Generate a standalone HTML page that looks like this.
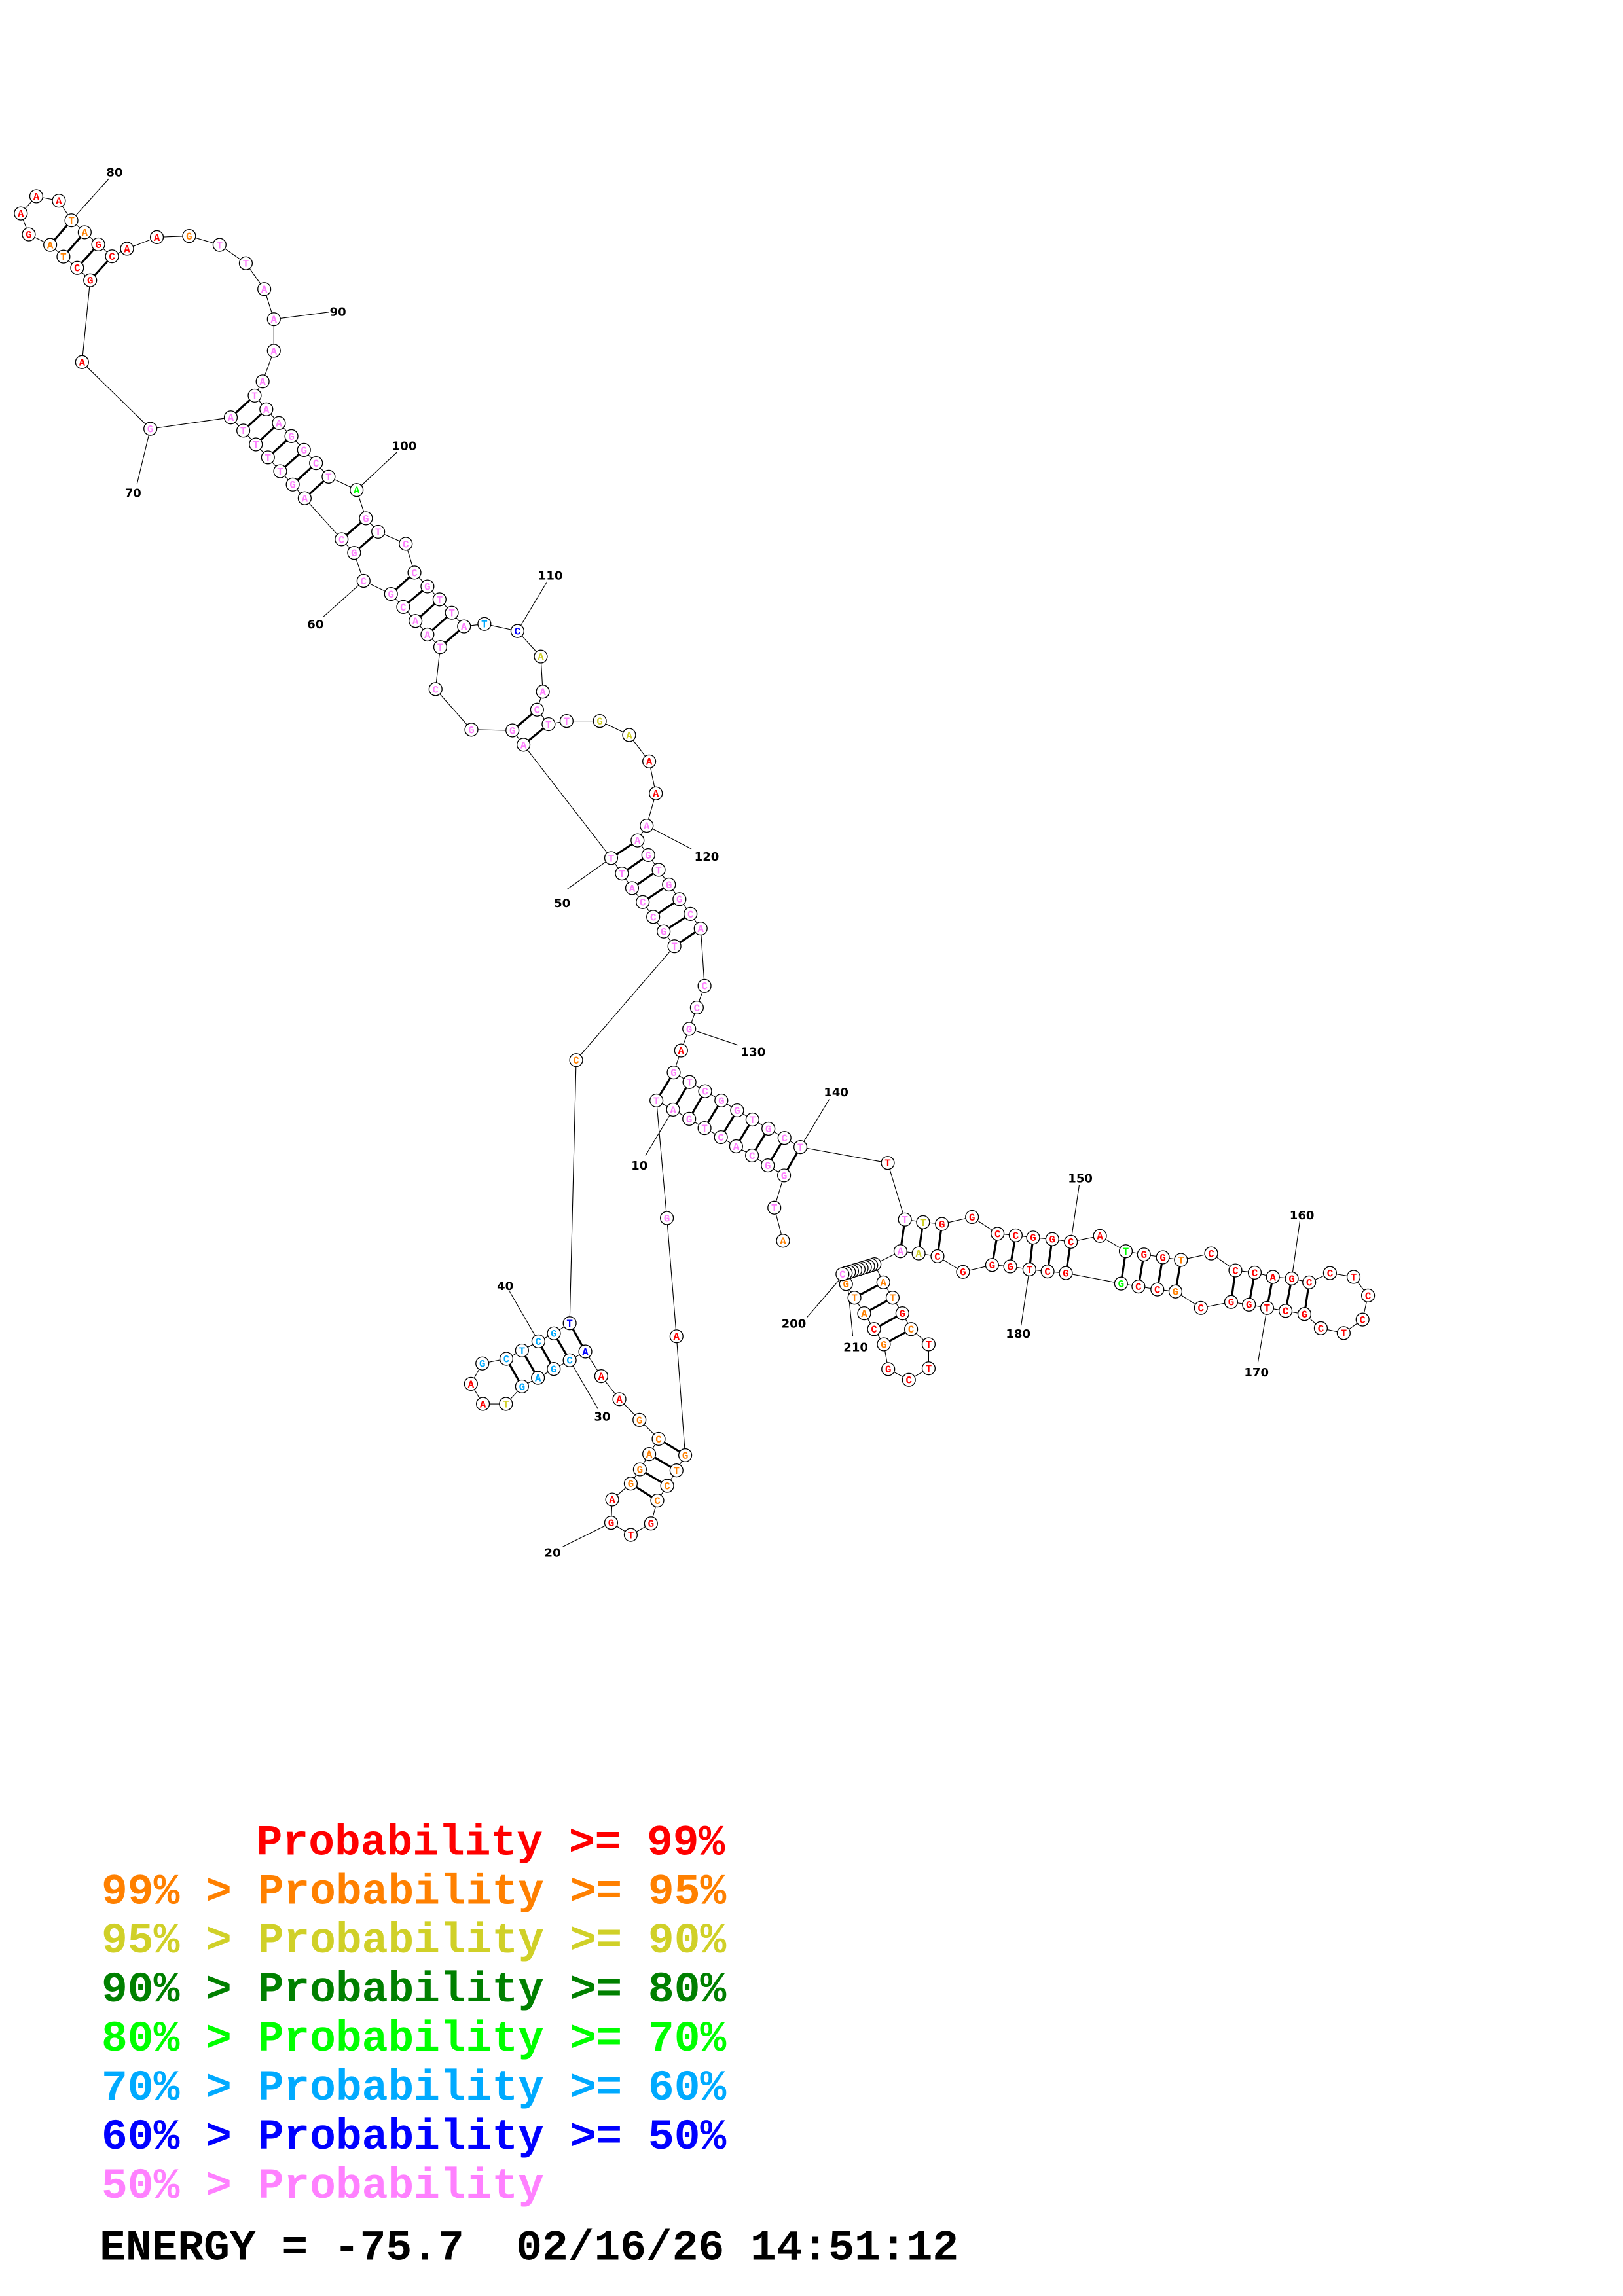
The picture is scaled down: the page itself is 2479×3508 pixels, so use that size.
<!DOCTYPE html>
<html><head><meta charset="utf-8"><style>
html,body{margin:0;padding:0;background:#fff;}
svg{display:block;}
circle{fill:#fff;stroke:#000;stroke-width:.6;}
.n{font-family:"Liberation Mono",monospace;font-weight:bold;font-size:7px;text-anchor:middle;}
.lab{font-family:"DejaVu Sans","Liberation Sans",sans-serif;font-weight:bold;font-size:8px;text-anchor:middle;fill:#000;}
.bb{fill:none;stroke:#000;stroke-width:.5;}
.pr{stroke:#000;stroke-width:1.4;}
.ln{stroke:#000;stroke-width:.5;}
.p{fill:#ff80ff}.r{fill:#ff0000}.o{fill:#ff8000}.y{fill:#d0d028}.dg{fill:#008000}.g{fill:#00ff00}.lb{fill:#00aaff}.b{fill:#0000ff}.k{fill:#000}
.leg{font-family:"Liberation Mono",monospace;font-weight:bold;font-size:29.4px;}
</style></head><body>
<svg width="2479" height="3508" viewBox="0 0 1100 1556.6" xmlns="http://www.w3.org/2000/svg">
<!-- backbone -->
<polyline class="bb" points="530.7,841.2 524.8,818.8 531.4,796.9 520.4,790.1 509.7,783.4 498.9,777.2 488.6,771 477.5,764.8 467.1,758.5 456.2,752.3 444.9,746.1 452,825.8 458.5,906 464.4,986.6 458.5,996.9 452.2,1007.3 445.5,1017.3 441.2,1032.9 427.5,1040.6 414.2,1032.4 414.9,1016.6 427.5,1005.8 433.7,996.2 440,985.8 446.4,975.5 433.4,962.6 419.8,948.6 407.5,933 396.7,916.3 386.1,922.2 375.3,928.1 364.6,934.1 353.8,940 342.9,951.8 327.3,951.8 319.2,938.2 326.9,924.4 343.2,921.2 353.8,915.6 364.9,909.4 375.4,904 386.1,897.1 390.5,718.7 457.1,641.5 449.8,631.5 442.7,621.6 435.6,611.6 428.4,602.1 421.5,592.2 414.2,581.7 354.8,504.9 347.3,495.2 319.5,494.7 295.2,467.2 298.4,438.7 289.7,430.2 281.6,421 273.3,411.5 265,402.7 246.4,393.8 240,374.8 231.5,365.6 206.5,337.8 198.4,328.5 189.9,319.5 181.6,310.1 173.4,301.3 164.9,291.9 156.4,283 101.9,290.7 55.6,245.5 61.1,190 52.3,181.6 43,174 34,166 19.5,158.9 14.1,144.7 24.6,133.1 39.9,136.1 48.4,149.4 57.4,157.5 66.6,165.7 75.9,173.8 86.1,168.6 106.3,160.8 128.2,160 148.8,166 166.6,178.5 179.1,196 185.6,216.4 185.6,237.8 178,258.6 172.6,268.2 180.5,277.5 189,286.8 197.5,295.7 206,305 214.2,314 222.7,323.2 241.7,332.2 248,351.4 256.3,360.5 275,368.7 280.9,388.2 289.7,397.6 297.9,406.4 306.2,415.4 314.5,424.7 328.3,423 350.7,427.8 366.5,445.1 367.9,468.9 364,481.1 371.8,491 384,488.8 406.5,488.8 426.4,498.3 440,516.2 444.5,537.9 438.3,559.8 432.1,569.8 439.4,579.7 446.4,589.7 453.4,599.7 460.5,609.6 468,619.6 474.9,629.5 477.5,668.4 472.3,683.1 467.1,697.5 461.6,712.2 456.6,727.1 467.3,733.6 477.9,739.8 488.9,746.1 499.6,752.8 510,759 520.8,765.2 531.7,771.5 542.5,777.7 601.7,788.4 613.3,826.8 625.6,828.6 638.4,829.8 658.8,825.1 676.1,836.4 688.4,837.5 700.2,839 713.2,840.1 725.8,841.9 745.5,837.9 763,848.3 775.3,850.5 788.1,852.4 800.4,854.2 820.9,849.8 837.3,861.3 850.4,862.8 862.7,865.7 875.5,866.8 887.3,869.4 901.4,863.1 917.4,865.7 927.2,878.3 923.5,894.6 910.7,903.8 895.2,900.5 884.1,890.9 871.3,888.7 858.8,886.7 846.5,884.5 834.4,882.7 813.9,886.7 796.7,875.6 784.4,874.2 771.6,872.2 759.8,870.2 722.4,863.1 710,862 697.7,860.6 684.7,858.6 672.4,857.6 652.7,862.3 635.4,851.7 622.6,849.8 610.3,848.3 592.7,857.1 571,863.8 573.4,870.5 579.1,879.8 585.7,890.4 592.4,901.1 599,911.4 602,928.2 616,935.5 629.4,927.7 629.4,911.4 617.5,901.1 611.6,890.4 605,879.8 598.7,869.4 592.7,857.1"/>
<!-- pairs -->
<g class="pr">
<line x1="531.4" y1="796.9" x2="542.5" y2="777.7"/><line x1="520.4" y1="790.1" x2="531.7" y2="771.5"/><line x1="509.7" y1="783.4" x2="520.8" y2="765.2"/><line x1="498.9" y1="777.2" x2="510" y2="759"/><line x1="488.6" y1="771" x2="499.6" y2="752.8"/><line x1="477.5" y1="764.8" x2="488.9" y2="746.1"/><line x1="467.1" y1="758.5" x2="477.9" y2="739.8"/><line x1="456.2" y1="752.3" x2="467.3" y2="733.6"/><line x1="444.9" y1="746.1" x2="456.6" y2="727.1"/>
<line x1="464.4" y1="986.6" x2="446.4" y2="975.5"/><line x1="458.5" y1="996.9" x2="440" y2="985.8"/><line x1="452.2" y1="1007.3" x2="433.7" y2="996.2"/><line x1="445.5" y1="1017.3" x2="427.5" y2="1005.8"/>
<line x1="386.1" y1="897.1" x2="396.7" y2="916.3"/><line x1="375.4" y1="904" x2="386.1" y2="922.2"/><line x1="364.9" y1="909.4" x2="375.3" y2="928.1"/><line x1="353.8" y1="915.6" x2="364.6" y2="934.1"/><line x1="343.2" y1="921.2" x2="353.8" y2="940"/>
<line x1="414.2" y1="581.7" x2="432.1" y2="569.8"/><line x1="421.5" y1="592.2" x2="439.4" y2="579.7"/><line x1="428.4" y1="602.1" x2="446.4" y2="589.7"/><line x1="435.6" y1="611.6" x2="453.4" y2="599.7"/><line x1="442.7" y1="621.6" x2="460.5" y2="609.6"/><line x1="449.8" y1="631.5" x2="468" y2="619.6"/><line x1="457.1" y1="641.5" x2="474.9" y2="629.5"/>
<line x1="354.8" y1="504.9" x2="371.8" y2="491"/><line x1="347.3" y1="495.2" x2="364" y2="481.1"/>
<line x1="298.4" y1="438.7" x2="314.5" y2="424.7"/><line x1="289.7" y1="430.2" x2="306.2" y2="415.4"/><line x1="281.6" y1="421" x2="297.9" y2="406.4"/><line x1="273.3" y1="411.5" x2="289.7" y2="397.6"/><line x1="265" y1="402.7" x2="280.9" y2="388.2"/>
<line x1="240" y1="374.8" x2="256.3" y2="360.5"/><line x1="231.5" y1="365.6" x2="248" y2="351.4"/>
<line x1="206.5" y1="337.8" x2="222.7" y2="323.2"/><line x1="198.4" y1="328.5" x2="214.2" y2="314"/><line x1="189.9" y1="319.5" x2="206" y2="305"/><line x1="181.6" y1="310.1" x2="197.5" y2="295.7"/><line x1="173.4" y1="301.3" x2="189" y2="286.8"/><line x1="164.9" y1="291.9" x2="180.5" y2="277.5"/><line x1="156.4" y1="283" x2="172.6" y2="268.2"/>
<line x1="61.1" y1="190" x2="75.9" y2="173.8"/><line x1="52.3" y1="181.6" x2="66.6" y2="165.7"/><line x1="43" y1="174" x2="57.4" y2="157.5"/><line x1="34" y1="166" x2="48.4" y2="149.4"/>
<line x1="613.3" y1="826.8" x2="610.3" y2="848.3"/><line x1="625.6" y1="828.6" x2="622.6" y2="849.8"/><line x1="638.4" y1="829.8" x2="635.4" y2="851.7"/>
<line x1="676.1" y1="836.4" x2="672.4" y2="857.6"/><line x1="688.4" y1="837.5" x2="684.7" y2="858.6"/><line x1="700.2" y1="839" x2="697.7" y2="860.6"/><line x1="713.2" y1="840.1" x2="710" y2="862"/><line x1="725.8" y1="841.9" x2="722.4" y2="863.1"/>
<line x1="763" y1="848.3" x2="759.8" y2="870.2"/><line x1="775.3" y1="850.5" x2="771.6" y2="872.2"/><line x1="788.1" y1="852.4" x2="784.4" y2="874.2"/><line x1="800.4" y1="854.2" x2="796.7" y2="875.6"/>
<line x1="837.3" y1="861.3" x2="834.4" y2="882.7"/><line x1="850.4" y1="862.8" x2="846.5" y2="884.5"/><line x1="862.7" y1="865.7" x2="858.8" y2="886.7"/><line x1="875.5" y1="866.8" x2="871.3" y2="888.7"/><line x1="887.3" y1="869.4" x2="884.1" y2="890.9"/>
<line x1="579.1" y1="879.8" x2="598.7" y2="869.4"/><line x1="585.7" y1="890.4" x2="605" y2="879.8"/><line x1="592.4" y1="901.1" x2="611.6" y2="890.4"/><line x1="599" y1="911.4" x2="617.5" y2="901.1"/>
</g>
<!-- number labels -->
<g class="ln">
<line x1="437.5" y1="783.4" x2="456.2" y2="752.3"/><line x1="381.3" y1="1048.7" x2="414.2" y2="1032.4"/><line x1="405.3" y1="955.2" x2="386.1" y2="922.2"/><line x1="345.4" y1="875.6" x2="364.9" y2="909.4"/><line x1="384.3" y1="602.9" x2="414.2" y2="581.7"/><line x1="219.3" y1="418" x2="246.4" y2="393.8"/><line x1="92.8" y1="328.3" x2="101.9" y2="290.7"/><line x1="73.9" y1="121" x2="48.4" y2="149.4"/><line x1="223" y1="211.6" x2="185.6" y2="216.4"/><line x1="268.9" y1="306.7" x2="241.7" y2="332.2"/><line x1="370.7" y1="394.5" x2="350.7" y2="427.8"/><line x1="468.6" y1="575.5" x2="438.3" y2="559.8"/><line x1="500" y1="708.5" x2="467.1" y2="697.5"/><line x1="562" y1="745.3" x2="542.5" y2="777.7"/><line x1="731.5" y1="803.2" x2="725.8" y2="841.9"/><line x1="881" y1="828" x2="875.5" y2="866.8"/><line x1="852.6" y1="923.7" x2="858.8" y2="886.7"/><line x1="692.1" y1="898.6" x2="697.7" y2="860.6"/><line x1="547" y1="893" x2="572" y2="864"/><line x1="578" y1="906" x2="574" y2="866"/>
</g>
<g class="lab">
<text x="433.4" y="792.9">10</text><text x="374.5" y="1055.4">20</text><text x="408.2" y="963.2">30</text><text x="342.4" y="874.5">40</text><text x="381" y="615">50</text><text x="213.8" y="426">60</text><text x="90.2" y="337">70</text><text x="77.6" y="119.6">80</text><text x="229" y="214">90</text><text x="274" y="305">100</text><text x="373" y="393">110</text><text x="479" y="583.5">120</text><text x="510.5" y="716">130</text><text x="566.7" y="743.3">140</text><text x="732.2" y="801.7">150</text><text x="882.4" y="826.6">160</text><text x="851.6" y="933.1">170</text><text x="690.1" y="907">180</text><text x="538" y="900">200</text><text x="580" y="916">210</text>
</g>
<!-- nodes -->
<g id="nodes">
<circle cx="573.4" cy="870.5" r="4.4"/><text class="n o" x="573.4" y="872.9">G</text>
<circle cx="530.7" cy="841.2" r="4.4"/><text class="n o" x="530.7" y="843.6">A</text>
<circle cx="524.8" cy="818.8" r="4.4"/><text class="n p" x="524.8" y="821.2">T</text>
<circle cx="531.4" cy="796.9" r="4.4"/><text class="n p" x="531.4" y="799.3">G</text>
<circle cx="520.4" cy="790.1" r="4.4"/><text class="n p" x="520.4" y="792.5">G</text>
<circle cx="509.7" cy="783.4" r="4.4"/><text class="n p" x="509.7" y="785.8">C</text>
<circle cx="498.9" cy="777.2" r="4.4"/><text class="n p" x="498.9" y="779.6">A</text>
<circle cx="488.6" cy="771" r="4.4"/><text class="n p" x="488.6" y="773.4">C</text>
<circle cx="477.5" cy="764.8" r="4.4"/><text class="n p" x="477.5" y="767.2">T</text>
<circle cx="467.1" cy="758.5" r="4.4"/><text class="n p" x="467.1" y="760.9">G</text>
<circle cx="456.2" cy="752.3" r="4.4"/><text class="n p" x="456.2" y="754.7">A</text>
<circle cx="444.9" cy="746.1" r="4.4"/><text class="n p" x="444.9" y="748.5">T</text>
<circle cx="452" cy="825.8" r="4.4"/><text class="n p" x="452" y="828.2">G</text>
<circle cx="458.5" cy="906" r="4.4"/><text class="n r" x="458.5" y="908.4">A</text>
<circle cx="464.4" cy="986.6" r="4.4"/><text class="n o" x="464.4" y="989">G</text>
<circle cx="458.5" cy="996.9" r="4.4"/><text class="n o" x="458.5" y="999.3">T</text>
<circle cx="452.2" cy="1007.3" r="4.4"/><text class="n o" x="452.2" y="1009.7">C</text>
<circle cx="445.5" cy="1017.3" r="4.4"/><text class="n o" x="445.5" y="1019.7">C</text>
<circle cx="441.2" cy="1032.9" r="4.4"/><text class="n r" x="441.2" y="1035.3">G</text>
<circle cx="427.5" cy="1040.6" r="4.4"/><text class="n r" x="427.5" y="1043">T</text>
<circle cx="414.2" cy="1032.4" r="4.4"/><text class="n r" x="414.2" y="1034.8">G</text>
<circle cx="414.9" cy="1016.6" r="4.4"/><text class="n r" x="414.9" y="1019">A</text>
<circle cx="427.5" cy="1005.8" r="4.4"/><text class="n o" x="427.5" y="1008.2">G</text>
<circle cx="433.7" cy="996.2" r="4.4"/><text class="n o" x="433.7" y="998.6">G</text>
<circle cx="440" cy="985.8" r="4.4"/><text class="n o" x="440" y="988.2">A</text>
<circle cx="446.4" cy="975.5" r="4.4"/><text class="n o" x="446.4" y="977.9">C</text>
<circle cx="433.4" cy="962.6" r="4.4"/><text class="n o" x="433.4" y="965">G</text>
<circle cx="419.8" cy="948.6" r="4.4"/><text class="n r" x="419.8" y="951">A</text>
<circle cx="407.5" cy="933" r="4.4"/><text class="n r" x="407.5" y="935.4">A</text>
<circle cx="396.7" cy="916.3" r="4.4"/><text class="n b" x="396.7" y="918.7">A</text>
<circle cx="386.1" cy="922.2" r="4.4"/><text class="n lb" x="386.1" y="924.6">C</text>
<circle cx="375.3" cy="928.1" r="4.4"/><text class="n lb" x="375.3" y="930.5">G</text>
<circle cx="364.6" cy="934.1" r="4.4"/><text class="n lb" x="364.6" y="936.5">A</text>
<circle cx="353.8" cy="940" r="4.4"/><text class="n lb" x="353.8" y="942.4">G</text>
<circle cx="342.9" cy="951.8" r="4.4"/><text class="n y" x="342.9" y="954.2">T</text>
<circle cx="327.3" cy="951.8" r="4.4"/><text class="n r" x="327.3" y="954.2">A</text>
<circle cx="319.2" cy="938.2" r="4.4"/><text class="n r" x="319.2" y="940.6">A</text>
<circle cx="326.9" cy="924.4" r="4.4"/><text class="n lb" x="326.9" y="926.8">G</text>
<circle cx="343.2" cy="921.2" r="4.4"/><text class="n lb" x="343.2" y="923.6">C</text>
<circle cx="353.8" cy="915.6" r="4.4"/><text class="n lb" x="353.8" y="918">T</text>
<circle cx="364.9" cy="909.4" r="4.4"/><text class="n lb" x="364.9" y="911.8">C</text>
<circle cx="375.4" cy="904" r="4.4"/><text class="n lb" x="375.4" y="906.4">G</text>
<circle cx="386.1" cy="897.1" r="4.4"/><text class="n b" x="386.1" y="899.5">T</text>
<circle cx="390.5" cy="718.7" r="4.4"/><text class="n o" x="390.5" y="721.1">C</text>
<circle cx="457.1" cy="641.5" r="4.4"/><text class="n p" x="457.1" y="643.9">T</text>
<circle cx="449.8" cy="631.5" r="4.4"/><text class="n p" x="449.8" y="633.9">G</text>
<circle cx="442.7" cy="621.6" r="4.4"/><text class="n p" x="442.7" y="624">C</text>
<circle cx="435.6" cy="611.6" r="4.4"/><text class="n p" x="435.6" y="614">C</text>
<circle cx="428.4" cy="602.1" r="4.4"/><text class="n p" x="428.4" y="604.5">A</text>
<circle cx="421.5" cy="592.2" r="4.4"/><text class="n p" x="421.5" y="594.6">T</text>
<circle cx="414.2" cy="581.7" r="4.4"/><text class="n p" x="414.2" y="584.1">T</text>
<circle cx="354.8" cy="504.9" r="4.4"/><text class="n p" x="354.8" y="507.3">A</text>
<circle cx="347.3" cy="495.2" r="4.4"/><text class="n p" x="347.3" y="497.6">G</text>
<circle cx="319.5" cy="494.7" r="4.4"/><text class="n p" x="319.5" y="497.1">G</text>
<circle cx="295.2" cy="467.2" r="4.4"/><text class="n p" x="295.2" y="469.6">C</text>
<circle cx="298.4" cy="438.7" r="4.4"/><text class="n p" x="298.4" y="441.1">T</text>
<circle cx="289.7" cy="430.2" r="4.4"/><text class="n p" x="289.7" y="432.6">A</text>
<circle cx="281.6" cy="421" r="4.4"/><text class="n p" x="281.6" y="423.4">A</text>
<circle cx="273.3" cy="411.5" r="4.4"/><text class="n p" x="273.3" y="413.9">C</text>
<circle cx="265" cy="402.7" r="4.4"/><text class="n p" x="265" y="405.1">G</text>
<circle cx="246.4" cy="393.8" r="4.4"/><text class="n p" x="246.4" y="396.2">C</text>
<circle cx="240" cy="374.8" r="4.4"/><text class="n p" x="240" y="377.2">G</text>
<circle cx="231.5" cy="365.6" r="4.4"/><text class="n p" x="231.5" y="368">C</text>
<circle cx="206.5" cy="337.8" r="4.4"/><text class="n p" x="206.5" y="340.2">A</text>
<circle cx="198.4" cy="328.5" r="4.4"/><text class="n p" x="198.4" y="330.9">G</text>
<circle cx="189.9" cy="319.5" r="4.4"/><text class="n p" x="189.9" y="321.9">T</text>
<circle cx="181.6" cy="310.1" r="4.4"/><text class="n p" x="181.6" y="312.5">T</text>
<circle cx="173.4" cy="301.3" r="4.4"/><text class="n p" x="173.4" y="303.7">T</text>
<circle cx="164.9" cy="291.9" r="4.4"/><text class="n p" x="164.9" y="294.3">T</text>
<circle cx="156.4" cy="283" r="4.4"/><text class="n p" x="156.4" y="285.4">A</text>
<circle cx="101.9" cy="290.7" r="4.4"/><text class="n p" x="101.9" y="293.1">G</text>
<circle cx="55.6" cy="245.5" r="4.4"/><text class="n r" x="55.6" y="247.9">A</text>
<circle cx="61.1" cy="190" r="4.4"/><text class="n r" x="61.1" y="192.4">G</text>
<circle cx="52.3" cy="181.6" r="4.4"/><text class="n r" x="52.3" y="184">C</text>
<circle cx="43" cy="174" r="4.4"/><text class="n o" x="43" y="176.4">T</text>
<circle cx="34" cy="166" r="4.4"/><text class="n o" x="34" y="168.4">A</text>
<circle cx="19.5" cy="158.9" r="4.4"/><text class="n r" x="19.5" y="161.3">G</text>
<circle cx="14.1" cy="144.7" r="4.4"/><text class="n r" x="14.1" y="147.1">A</text>
<circle cx="24.6" cy="133.1" r="4.4"/><text class="n r" x="24.6" y="135.5">A</text>
<circle cx="39.9" cy="136.1" r="4.4"/><text class="n r" x="39.9" y="138.5">A</text>
<circle cx="48.4" cy="149.4" r="4.4"/><text class="n o" x="48.4" y="151.8">T</text>
<circle cx="57.4" cy="157.5" r="4.4"/><text class="n o" x="57.4" y="159.9">A</text>
<circle cx="66.6" cy="165.7" r="4.4"/><text class="n r" x="66.6" y="168.1">G</text>
<circle cx="75.9" cy="173.8" r="4.4"/><text class="n r" x="75.9" y="176.2">C</text>
<circle cx="86.1" cy="168.6" r="4.4"/><text class="n r" x="86.1" y="171">A</text>
<circle cx="106.3" cy="160.8" r="4.4"/><text class="n r" x="106.3" y="163.2">A</text>
<circle cx="128.2" cy="160" r="4.4"/><text class="n o" x="128.2" y="162.4">G</text>
<circle cx="148.8" cy="166" r="4.4"/><text class="n p" x="148.8" y="168.4">T</text>
<circle cx="166.6" cy="178.5" r="4.4"/><text class="n p" x="166.6" y="180.9">T</text>
<circle cx="179.1" cy="196" r="4.4"/><text class="n p" x="179.1" y="198.4">A</text>
<circle cx="185.6" cy="216.4" r="4.4"/><text class="n p" x="185.6" y="218.8">A</text>
<circle cx="185.6" cy="237.8" r="4.4"/><text class="n p" x="185.6" y="240.2">A</text>
<circle cx="178" cy="258.6" r="4.4"/><text class="n p" x="178" y="261">A</text>
<circle cx="172.6" cy="268.2" r="4.4"/><text class="n p" x="172.6" y="270.6">T</text>
<circle cx="180.5" cy="277.5" r="4.4"/><text class="n p" x="180.5" y="279.9">A</text>
<circle cx="189" cy="286.8" r="4.4"/><text class="n p" x="189" y="289.2">A</text>
<circle cx="197.5" cy="295.7" r="4.4"/><text class="n p" x="197.5" y="298.1">G</text>
<circle cx="206" cy="305" r="4.4"/><text class="n p" x="206" y="307.4">G</text>
<circle cx="214.2" cy="314" r="4.4"/><text class="n p" x="214.2" y="316.4">C</text>
<circle cx="222.7" cy="323.2" r="4.4"/><text class="n p" x="222.7" y="325.6">T</text>
<circle cx="241.7" cy="332.2" r="4.4"/><text class="n g" x="241.7" y="334.6">A</text>
<circle cx="248" cy="351.4" r="4.4"/><text class="n p" x="248" y="353.8">G</text>
<circle cx="256.3" cy="360.5" r="4.4"/><text class="n p" x="256.3" y="362.9">T</text>
<circle cx="275" cy="368.7" r="4.4"/><text class="n p" x="275" y="371.1">C</text>
<circle cx="280.9" cy="388.2" r="4.4"/><text class="n p" x="280.9" y="390.6">C</text>
<circle cx="289.7" cy="397.6" r="4.4"/><text class="n p" x="289.7" y="400">G</text>
<circle cx="297.9" cy="406.4" r="4.4"/><text class="n p" x="297.9" y="408.8">T</text>
<circle cx="306.2" cy="415.4" r="4.4"/><text class="n p" x="306.2" y="417.8">T</text>
<circle cx="314.5" cy="424.7" r="4.4"/><text class="n p" x="314.5" y="427.1">A</text>
<circle cx="328.3" cy="423" r="4.4"/><text class="n lb" x="328.3" y="425.4">T</text>
<circle cx="350.7" cy="427.8" r="4.4"/><text class="n b" x="350.7" y="430.2">C</text>
<circle cx="366.5" cy="445.1" r="4.4"/><text class="n y" x="366.5" y="447.5">A</text>
<circle cx="367.9" cy="468.9" r="4.4"/><text class="n p" x="367.9" y="471.3">A</text>
<circle cx="364" cy="481.1" r="4.4"/><text class="n p" x="364" y="483.5">C</text>
<circle cx="371.8" cy="491" r="4.4"/><text class="n p" x="371.8" y="493.4">T</text>
<circle cx="384" cy="488.8" r="4.4"/><text class="n p" x="384" y="491.2">T</text>
<circle cx="406.5" cy="488.8" r="4.4"/><text class="n y" x="406.5" y="491.2">G</text>
<circle cx="426.4" cy="498.3" r="4.4"/><text class="n y" x="426.4" y="500.7">A</text>
<circle cx="440" cy="516.2" r="4.4"/><text class="n r" x="440" y="518.6">A</text>
<circle cx="444.5" cy="537.9" r="4.4"/><text class="n r" x="444.5" y="540.3">A</text>
<circle cx="438.3" cy="559.8" r="4.4"/><text class="n p" x="438.3" y="562.2">A</text>
<circle cx="432.1" cy="569.8" r="4.4"/><text class="n p" x="432.1" y="572.2">A</text>
<circle cx="439.4" cy="579.7" r="4.4"/><text class="n p" x="439.4" y="582.1">G</text>
<circle cx="446.4" cy="589.7" r="4.4"/><text class="n p" x="446.4" y="592.1">T</text>
<circle cx="453.4" cy="599.7" r="4.4"/><text class="n p" x="453.4" y="602.1">G</text>
<circle cx="460.5" cy="609.6" r="4.4"/><text class="n p" x="460.5" y="612">G</text>
<circle cx="468" cy="619.6" r="4.4"/><text class="n p" x="468" y="622">C</text>
<circle cx="474.9" cy="629.5" r="4.4"/><text class="n p" x="474.9" y="631.9">A</text>
<circle cx="477.5" cy="668.4" r="4.4"/><text class="n p" x="477.5" y="670.8">C</text>
<circle cx="472.3" cy="683.1" r="4.4"/><text class="n p" x="472.3" y="685.5">C</text>
<circle cx="467.1" cy="697.5" r="4.4"/><text class="n p" x="467.1" y="699.9">G</text>
<circle cx="461.6" cy="712.2" r="4.4"/><text class="n r" x="461.6" y="714.6">A</text>
<circle cx="456.6" cy="727.1" r="4.4"/><text class="n p" x="456.6" y="729.5">G</text>
<circle cx="467.3" cy="733.6" r="4.4"/><text class="n p" x="467.3" y="736">T</text>
<circle cx="477.9" cy="739.8" r="4.4"/><text class="n p" x="477.9" y="742.2">C</text>
<circle cx="488.9" cy="746.1" r="4.4"/><text class="n p" x="488.9" y="748.5">G</text>
<circle cx="499.6" cy="752.8" r="4.4"/><text class="n p" x="499.6" y="755.2">G</text>
<circle cx="510" cy="759" r="4.4"/><text class="n p" x="510" y="761.4">T</text>
<circle cx="520.8" cy="765.2" r="4.4"/><text class="n p" x="520.8" y="767.6">G</text>
<circle cx="531.7" cy="771.5" r="4.4"/><text class="n p" x="531.7" y="773.9">C</text>
<circle cx="542.5" cy="777.7" r="4.4"/><text class="n p" x="542.5" y="780.1">T</text>
<circle cx="601.7" cy="788.4" r="4.4"/><text class="n r" x="601.7" y="790.8">T</text>
<circle cx="613.3" cy="826.8" r="4.4"/><text class="n p" x="613.3" y="829.2">T</text>
<circle cx="625.6" cy="828.6" r="4.4"/><text class="n y" x="625.6" y="831">T</text>
<circle cx="638.4" cy="829.8" r="4.4"/><text class="n r" x="638.4" y="832.2">G</text>
<circle cx="658.8" cy="825.1" r="4.4"/><text class="n r" x="658.8" y="827.5">G</text>
<circle cx="676.1" cy="836.4" r="4.4"/><text class="n r" x="676.1" y="838.8">C</text>
<circle cx="688.4" cy="837.5" r="4.4"/><text class="n r" x="688.4" y="839.9">C</text>
<circle cx="700.2" cy="839" r="4.4"/><text class="n r" x="700.2" y="841.4">G</text>
<circle cx="713.2" cy="840.1" r="4.4"/><text class="n r" x="713.2" y="842.5">G</text>
<circle cx="725.8" cy="841.9" r="4.4"/><text class="n r" x="725.8" y="844.3">C</text>
<circle cx="745.5" cy="837.9" r="4.4"/><text class="n r" x="745.5" y="840.3">A</text>
<circle cx="763" cy="848.3" r="4.4"/><text class="n g" x="763" y="850.7">T</text>
<circle cx="775.3" cy="850.5" r="4.4"/><text class="n r" x="775.3" y="852.9">G</text>
<circle cx="788.1" cy="852.4" r="4.4"/><text class="n r" x="788.1" y="854.8">G</text>
<circle cx="800.4" cy="854.2" r="4.4"/><text class="n o" x="800.4" y="856.6">T</text>
<circle cx="820.9" cy="849.8" r="4.4"/><text class="n r" x="820.9" y="852.2">C</text>
<circle cx="837.3" cy="861.3" r="4.4"/><text class="n r" x="837.3" y="863.7">C</text>
<circle cx="850.4" cy="862.8" r="4.4"/><text class="n r" x="850.4" y="865.2">C</text>
<circle cx="862.7" cy="865.7" r="4.4"/><text class="n r" x="862.7" y="868.1">A</text>
<circle cx="875.5" cy="866.8" r="4.4"/><text class="n r" x="875.5" y="869.2">G</text>
<circle cx="887.3" cy="869.4" r="4.4"/><text class="n r" x="887.3" y="871.8">C</text>
<circle cx="901.4" cy="863.1" r="4.4"/><text class="n r" x="901.4" y="865.5">C</text>
<circle cx="917.4" cy="865.7" r="4.4"/><text class="n r" x="917.4" y="868.1">T</text>
<circle cx="927.2" cy="878.3" r="4.4"/><text class="n r" x="927.2" y="880.7">C</text>
<circle cx="923.5" cy="894.6" r="4.4"/><text class="n r" x="923.5" y="897">C</text>
<circle cx="910.7" cy="903.8" r="4.4"/><text class="n r" x="910.7" y="906.2">T</text>
<circle cx="895.2" cy="900.5" r="4.4"/><text class="n r" x="895.2" y="902.9">C</text>
<circle cx="884.1" cy="890.9" r="4.4"/><text class="n r" x="884.1" y="893.3">G</text>
<circle cx="871.3" cy="888.7" r="4.4"/><text class="n r" x="871.3" y="891.1">C</text>
<circle cx="858.8" cy="886.7" r="4.4"/><text class="n r" x="858.8" y="889.1">T</text>
<circle cx="846.5" cy="884.5" r="4.4"/><text class="n r" x="846.5" y="886.9">G</text>
<circle cx="834.4" cy="882.7" r="4.4"/><text class="n r" x="834.4" y="885.1">G</text>
<circle cx="813.9" cy="886.7" r="4.4"/><text class="n r" x="813.9" y="889.1">C</text>
<circle cx="796.7" cy="875.6" r="4.4"/><text class="n o" x="796.7" y="878">G</text>
<circle cx="784.4" cy="874.2" r="4.4"/><text class="n r" x="784.4" y="876.6">C</text>
<circle cx="771.6" cy="872.2" r="4.4"/><text class="n r" x="771.6" y="874.6">C</text>
<circle cx="759.8" cy="870.2" r="4.4"/><text class="n g" x="759.8" y="872.6">G</text>
<circle cx="722.4" cy="863.1" r="4.4"/><text class="n r" x="722.4" y="865.5">G</text>
<circle cx="710" cy="862" r="4.4"/><text class="n r" x="710" y="864.4">C</text>
<circle cx="697.7" cy="860.6" r="4.4"/><text class="n r" x="697.7" y="863">T</text>
<circle cx="684.7" cy="858.6" r="4.4"/><text class="n r" x="684.7" y="861">G</text>
<circle cx="672.4" cy="857.6" r="4.4"/><text class="n r" x="672.4" y="860">G</text>
<circle cx="652.7" cy="862.3" r="4.4"/><text class="n r" x="652.7" y="864.7">G</text>
<circle cx="635.4" cy="851.7" r="4.4"/><text class="n r" x="635.4" y="854.1">C</text>
<circle cx="622.6" cy="849.8" r="4.4"/><text class="n y" x="622.6" y="852.2">A</text>
<circle cx="610.3" cy="848.3" r="4.4"/><text class="n p" x="610.3" y="850.7">A</text>
<circle cx="579.1" cy="879.8" r="4.4"/><text class="n o" x="579.1" y="882.2">T</text>
<circle cx="585.7" cy="890.4" r="4.4"/><text class="n o" x="585.7" y="892.8">A</text>
<circle cx="592.4" cy="901.1" r="4.4"/><text class="n r" x="592.4" y="903.5">C</text>
<circle cx="599" cy="911.4" r="4.4"/><text class="n o" x="599" y="913.8">G</text>
<circle cx="602" cy="928.2" r="4.4"/><text class="n r" x="602" y="930.6">G</text>
<circle cx="616" cy="935.5" r="4.4"/><text class="n r" x="616" y="937.9">C</text>
<circle cx="629.4" cy="927.7" r="4.4"/><text class="n r" x="629.4" y="930.1">T</text>
<circle cx="629.4" cy="911.4" r="4.4"/><text class="n r" x="629.4" y="913.8">T</text>
<circle cx="617.5" cy="901.1" r="4.4"/><text class="n o" x="617.5" y="903.5">C</text>
<circle cx="611.6" cy="890.4" r="4.4"/><text class="n r" x="611.6" y="892.8">G</text>
<circle cx="605" cy="879.8" r="4.4"/><text class="n o" x="605" y="882.2">T</text>
<circle cx="598.7" cy="869.4" r="4.4"/><text class="n o" x="598.7" y="871.8">A</text>
<!-- overlapping cluster -->
<circle cx="592.7" cy="857.1" r="4.4"/><text class="n o" x="592.7" y="859.5">T</text>
<circle cx="590.5" cy="857.8" r="4.4"/>
<circle cx="588.4" cy="858.5" r="4.4"/>
<circle cx="586.2" cy="859.1" r="4.4"/>
<circle cx="584" cy="859.8" r="4.4"/>
<circle cx="581.9" cy="860.5" r="4.4"/>
<circle cx="579.7" cy="861.1" r="4.4"/>
<circle cx="577.5" cy="861.8" r="4.4"/>
<circle cx="575.4" cy="862.5" r="4.4"/>
<circle cx="573.2" cy="863.1" r="4.4"/>
<circle cx="571" cy="863.8" r="4.4"/><text class="n p" x="571" y="866.2">C</text>
</g>
<!-- legend -->
<g class="leg">
<text x="68.8" y="1257.2"><tspan class="r" x="173.8">Probability &gt;= 99%</tspan></text>
<text x="68.8" y="1290.5" class="o" xml:space="preserve">99% &gt; Probability &gt;= 95%</text>
<text x="68.8" y="1323.7" class="y" xml:space="preserve">95% &gt; Probability &gt;= 90%</text>
<text x="68.8" y="1357" class="dg" xml:space="preserve">90% &gt; Probability &gt;= 80%</text>
<text x="68.8" y="1390.2" class="g" xml:space="preserve">80% &gt; Probability &gt;= 70%</text>
<text x="68.8" y="1423.5" class="lb" xml:space="preserve">70% &gt; Probability &gt;= 60%</text>
<text x="68.8" y="1456.7" class="b" xml:space="preserve">60% &gt; Probability &gt;= 50%</text>
<text x="68.8" y="1490" class="p" xml:space="preserve">50% &gt; Probability</text>
<text x="67.5" y="1532" class="k" xml:space="preserve">ENERGY = -75.7  02/16/26 14:51:12</text>
</g>
</svg>
</body></html>
